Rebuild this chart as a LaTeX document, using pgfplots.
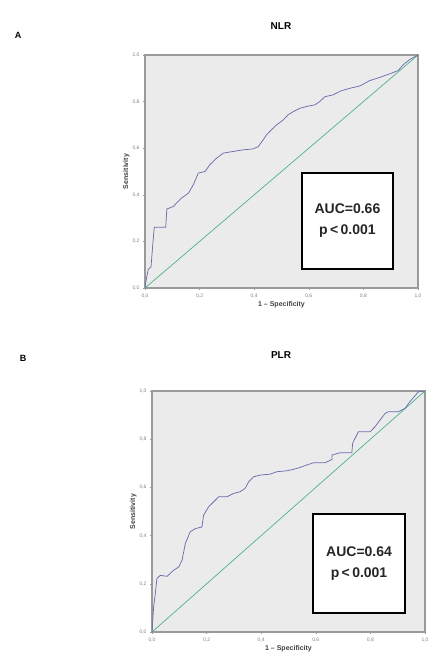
\documentclass[border=0pt]{standalone}
\usepackage{pgfplots}
\pgfplotsset{compat=1.18}
\usepackage{fontspec}
\setmainfont{Liberation Sans}

\definecolor{roc}{HTML}{6B6FAE}
\definecolor{ref}{HTML}{4DB38A}
\definecolor{bg}{HTML}{EBEBEB}
\definecolor{frame}{HTML}{9A9A9A}

\tikzset{aucbox/.style={font=\bfseries\fontsize{14}{21}\selectfont, align=center, text=black!85}}

\pgfplotsset{
  rocaxis/.style={
    scale only axis,
    width=273pt,
    xmin=0, xmax=1, ymin=0, ymax=1,
    xtick={0,0.2,0.4,0.6,0.8,1}, ytick={0,0.2,0.4,0.6,0.8,1},
    xticklabels={{0,0},{0,2},{0,4},{0,6},{0,8},{1,0}},
    yticklabels={{0,0},{0,2},{0,4},{0,6},{0,8},{1,0}},
    tick label style={font=\fontsize{5}{6}\selectfont, text=gray},
    tick align=outside, tick pos=left,
    major tick length=2pt,
    tick style={frame, line width=0.5pt},
    axis line style={frame, line width=1.5pt},
    axis background/.style={fill=bg},
    xlabel={1 -- Specificity}, ylabel={Sensitivity},
    label style={font=\fontsize{7}{8}\selectfont\bfseries, text=black!75},
    xlabel style={yshift=3pt}, ylabel style={yshift=-4pt},
  },
}

\begin{document}
\begin{tikzpicture}[x=1pt,y=1pt]
\useasboundingbox (0,0) rectangle (430,-660);

% panel A
\node[font=\bfseries\fontsize{9}{10}\selectfont] at (18,-35) {A};
\node[font=\bfseries\fontsize{10}{12}\selectfont] at (281,-26) {NLR};
\begin{axis}[rocaxis, height=233pt, at={(145pt,-55pt)}, anchor=north west]
\addplot[ref, line width=0.7pt] coordinates {(0,0) (1,1)};
\addplot[roc, line width=0.75pt] coordinates {
(0,0) (0.005,0.04) (0.012,0.08) (0.022,0.09) (0.028,0.18) (0.034,0.261)
(0.076,0.261) (0.08,0.339) (0.104,0.35) (0.12,0.37) (0.134,0.386) (0.159,0.407)
(0.177,0.443) (0.195,0.493) (0.22,0.5) (0.238,0.53) (0.262,0.557) (0.287,0.579)
(0.323,0.586) (0.36,0.593) (0.396,0.597) (0.415,0.607) (0.433,0.636) (0.445,0.657)
(0.463,0.679) (0.482,0.7) (0.506,0.721) (0.524,0.743) (0.543,0.757) (0.567,0.771)
(0.591,0.779) (0.622,0.786) (0.64,0.8) (0.659,0.821) (0.689,0.829) (0.72,0.847)
(0.75,0.857) (0.787,0.867) (0.823,0.89) (0.86,0.904) (0.896,0.919) (0.927,0.933)
(0.945,0.957) (0.97,0.981) (1,1)};
\draw[line width=1.4pt, fill=white] (axis cs:0.575,0.082) rectangle (axis cs:0.908,0.494);
\node[aucbox] at (axis cs:0.7415,0.29) {AUC=0.66\\p\,{<}\,0.001};
\end{axis}

% panel B
\node[font=\bfseries\fontsize{9}{10}\selectfont] at (23,-358) {B};
\node[font=\bfseries\fontsize{10}{12}\selectfont] at (281,-355) {PLR};
\begin{axis}[rocaxis, height=241pt, at={(152pt,-391pt)}, anchor=north west]
\addplot[ref, line width=0.7pt] coordinates {(0,0) (1,1)};
\addplot[roc, line width=0.75pt] coordinates {
(0,0) (0.006,0.104) (0.012,0.159) (0.018,0.222) (0.03,0.235) (0.055,0.231)
(0.079,0.256) (0.098,0.27) (0.11,0.298) (0.122,0.367) (0.14,0.416) (0.159,0.429)
(0.183,0.436) (0.189,0.485) (0.207,0.519) (0.232,0.547) (0.244,0.561) (0.274,0.561)
(0.299,0.575) (0.323,0.582) (0.341,0.596) (0.354,0.623) (0.372,0.644) (0.396,0.651)
(0.433,0.655) (0.457,0.665) (0.494,0.669) (0.518,0.675) (0.543,0.683) (0.567,0.693)
(0.591,0.702) (0.634,0.702) (0.659,0.716) (0.659,0.734) (0.689,0.744) (0.732,0.744)
(0.735,0.783) (0.756,0.831) (0.799,0.831) (0.817,0.852) (0.835,0.879) (0.854,0.907)
(0.866,0.914) (0.902,0.914) (0.927,0.928) (0.945,0.956) (0.976,0.997) (1,1)};
\draw[line width=1.4pt, fill=white] (axis cs:0.59,0.079) rectangle (axis cs:0.927,0.49);
\node[aucbox] at (axis cs:0.7585,0.2845) {AUC=0.64\\p\,{<}\,0.001};
\end{axis}
\end{tikzpicture}
\end{document}
